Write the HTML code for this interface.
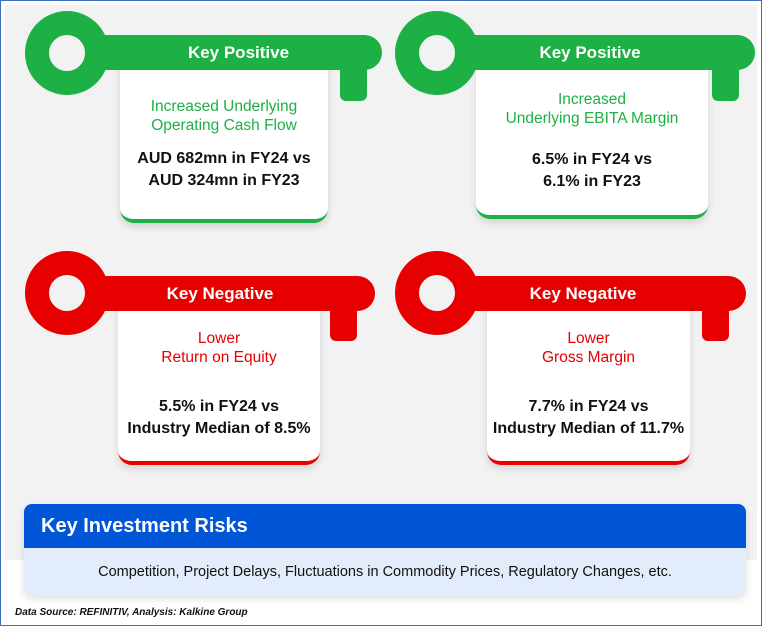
<!DOCTYPE html>
<html><head><meta charset="utf-8"><style>
*{margin:0;padding:0;box-sizing:border-box}
body{width:762px;height:626px;background:#fff;position:relative;overflow:hidden;font-family:"Liberation Sans",sans-serif}
.frame{position:absolute;left:0;top:0;width:762px;height:626px;border:1px solid #3f6fc4}
.bg{position:absolute;left:5px;top:5px;width:752px;height:555px;background:#f2f2f2}
.a{position:absolute}
.ring{position:absolute;width:84px;height:84px;border-radius:50%;border:24px solid}
.bar{position:absolute;height:35px;border-radius:0 18px 18px 0;color:#fff;font-weight:bold;font-size:17px;line-height:35px;text-align:center}
.prong{position:absolute;width:27px;height:33px;border-radius:0 0 6px 6px}
.card{position:absolute;background:#fff;border-radius:0 0 14px 14px;box-shadow:0 4px 8px rgba(0,0,0,.12);text-align:center;font-weight:bold}
.t1{font-size:15.5px;line-height:19px;font-weight:normal;white-space:nowrap}
.t2{font-size:16px;line-height:22px;color:#111;white-space:nowrap}
.g{border-color:#1db045;background:#1db045}
.r{border-color:#e60000;background:#e60000}
</style></head><body>
<div class="frame"></div>
<div class="bg"></div>

<div>
<div class="card" style="left:120px;top:60px;width:208px;height:163px;border-bottom:4px solid #1db045">
<div class="t1" style="color:#1db045;margin-top:37px">Increased Underlying<br>Operating Cash Flow</div>
<div class="t2" style="margin-top:13px">AUD 682mn in FY24 vs<br>AUD 324mn in FY23</div></div>
<div class="prong g" style="left:340px;top:68px"></div>
<div class="bar g" style="left:95px;top:35px;width:287px">Key Positive</div>
<div class="ring g" style="left:25px;top:11px;background:transparent"></div>
</div>

<div>
<div class="card" style="left:476px;top:60px;width:232px;height:159px;border-bottom:4px solid #1db045">
<div class="t1" style="color:#1db045;margin-top:30px">Increased<br>Underlying EBITA Margin</div>
<div class="t2" style="margin-top:21px">6.5% in FY24 vs<br>6.1% in FY23</div></div>
<div class="prong g" style="left:712px;top:68px"></div>
<div class="bar g" style="left:465px;top:35px;width:290px;padding-right:40px">Key Positive</div>
<div class="ring g" style="left:395px;top:11px;background:transparent"></div>
</div>

<div>
<div class="card" style="left:118px;top:300px;width:202px;height:165px;border-bottom:4px solid #e60000">
<div class="t1" style="color:#e60000;margin-top:29px">Lower<br>Return on Equity</div>
<div class="t2" style="margin-top:29px">5.5% in FY24 vs<br>Industry Median of 8.5%</div></div>
<div class="prong r" style="left:330px;top:308px"></div>
<div class="bar r" style="left:95px;top:276px;width:280px;padding-right:30px">Key Negative</div>
<div class="ring r" style="left:25px;top:251px;background:transparent"></div>
</div>

<div>
<div class="card" style="left:487px;top:300px;width:203px;height:165px;border-bottom:4px solid #e60000">
<div class="t1" style="color:#e60000;margin-top:29px">Lower<br>Gross Margin</div>
<div class="t2" style="margin-top:29px">7.7% in FY24 vs<br>Industry Median of 11.7%</div></div>
<div class="prong r" style="left:702px;top:308px"></div>
<div class="bar r" style="left:465px;top:276px;width:281px;padding-right:45px">Key Negative</div>
<div class="ring r" style="left:395px;top:251px;background:transparent"></div>
</div>

<div class="a" style="left:24px;top:504px;width:722px;height:92px;border-radius:8px;overflow:hidden;box-shadow:0 3px 8px rgba(0,0,0,.12)">
<div style="height:44px;background:#0056d6;color:#fff;font-size:20px;font-weight:bold;line-height:44px;padding-left:17px">Key Investment Risks</div>
<div style="height:48px;background:#e3ecfb;color:#111;font-size:14.5px;line-height:48px;text-align:center;white-space:nowrap">Competition, Project Delays, Fluctuations in Commodity Prices, Regulatory Changes, etc.</div>
</div>

<div class="a" style="left:15px;top:607px;font-size:10px;font-style:italic;font-weight:bold;color:#111">Data Source: REFINITIV, Analysis: Kalkine Group</div>
</body></html>
